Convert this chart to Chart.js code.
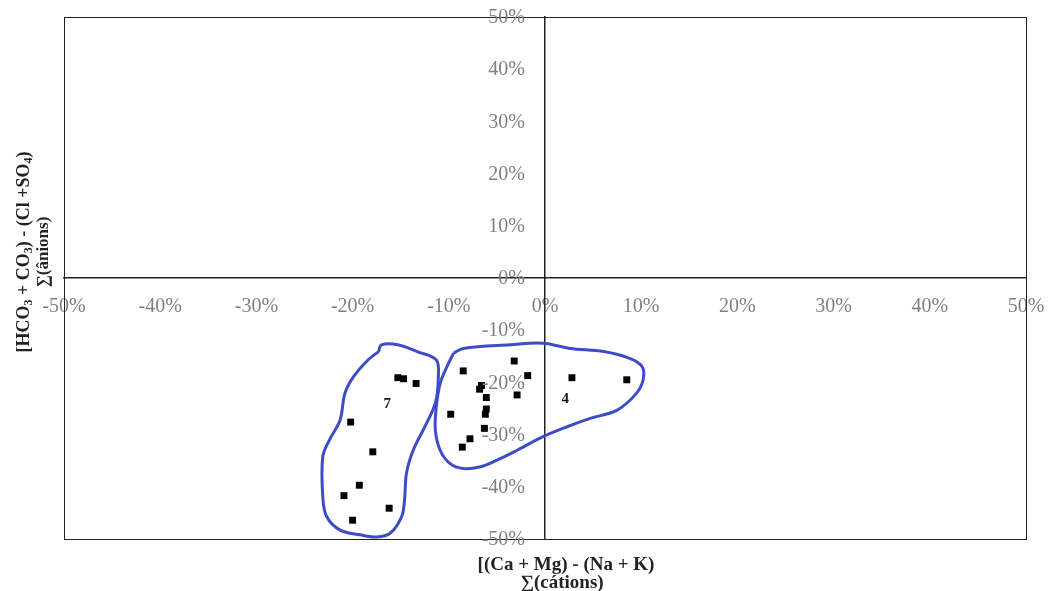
<!DOCTYPE html>
<html>
<head>
<meta charset="utf-8">
<script src="https://cdn.jsdelivr.net/npm/chart.js@4.4.0/dist/chart.umd.min.js"></script>
<style>
  body { margin: 0; background: #fff; }
  #wrap { width: 1059px; height: 591px; position: relative; }
</style>
</head>
<body>
<div id="wrap"><canvas id="pipChart"></canvas></div>
<script>
// group 7 samples (x = cations %, y = anions %)
const group7X = [-15.3, -14.7, -13.4, -20.2, -17.9, -19.3, -20.9, -16.2, -20.0];
const group7Y = [-19.1, -19.3, -20.2, -27.6, -33.3, -39.7, -41.7, -44.1, -46.4];

// group 4 samples
const group4X = [-3.2, -8.5, -1.8, 2.8, 8.5, -6.6, -6.8, -6.1, -2.9, -6.1, -6.2, -9.8, -6.3, -7.8, -8.6];
const group4Y = [-15.9, -17.8, -18.7, -19.1, -19.5, -20.6, -21.3, -22.9, -22.4, -25.1, -26.1, -26.1, -28.8, -30.8, -32.4];

// hand drawn outlines round each group
const outline7X = [-17.3, -17.0, -15.3, -13.3, -11.3, -11.1, -11.4, -12.5, -13.7, -14.4, -14.6, -14.9, -16.1, -17.5, -19.2, -21.3, -22.7, -23.1, -23.1, -22.4, -21.3, -20.8, -19.9, -18.4, -17.3];
const outline7Y = [-14.1, -12.8, -12.8, -14.1, -15.7, -19.5, -24.0, -28.5, -33.0, -37.4, -42.5, -45.7, -48.9, -49.6, -49.2, -48.3, -45.7, -41.9, -34.2, -31.0, -27.2, -22.1, -18.9, -15.7, -14.1];
const outline4X = [-9.5, -8.5, -3.6, -0.2, 2.6, 6.1, 8.8, 10.1, 10.2, 9.5, 7.5, 4.7, 2.3, -0.2, -2.9, -5.0, -6.8, -8.5, -9.9, -10.9, -11.4, -11.3, -10.9, -10.2, -9.5];
const outline4Y = [-14.4, -13.5, -12.8, -12.5, -13.5, -14.1, -15.4, -17.0, -19.5, -22.1, -25.3, -26.9, -28.5, -30.4, -33.0, -34.9, -36.2, -36.5, -35.5, -33.0, -29.1, -24.7, -20.2, -17.0, -14.4];

// group labels
const groupNames = ['7', '4'];
const groupLabelX = [-16.4, 2.1];
const groupLabelY = [-24.1, -23.2];

const tickValues = [-50, -40, -30, -20, -10, 0, 10, 20, 30, 40, 50];

const toPts = (xs, ys) => xs.map((x, i) => ({ x: x, y: ys[i] }));

const serif = '"Liberation Serif", "Times New Roman", serif';

const extras = {
  id: 'extras',
  afterDraw(chart) {
    const { ctx, chartArea: a, scales } = chart;
    ctx.save();
    // frame
    ctx.strokeStyle = '#222';
    ctx.lineWidth = 1;
    ctx.strokeRect(a.left + 0.5, a.top + 0.5, a.right - a.left, a.bottom - a.top);

    // y tick labels, left of the centred y axis
    const x0 = scales.x.getPixelForValue(0);
    ctx.fillStyle = '#808080';
    ctx.font = '20px ' + serif;
    ctx.textAlign = 'right';
    ctx.textBaseline = 'middle';
    tickValues.forEach(v => {
      ctx.fillText(v + '%', x0 - 20, scales.y.getPixelForValue(v) + 1);
    });

    // group labels
    ctx.fillStyle = '#111';
    ctx.font = 'bold 15px ' + serif;
    ctx.textAlign = 'center';
    groupNames.forEach((n, i) => {
      ctx.fillText(n, scales.x.getPixelForValue(groupLabelX[i]), scales.y.getPixelForValue(groupLabelY[i]));
    });

    // x axis title
    ctx.fillStyle = '#222';
    ctx.font = 'bold 19px ' + serif;
    ctx.fillText('[(Ca + Mg) - (Na + K)', 566, 565);
    ctx.fillText('\u2211(c\u00e1tions)', 562, 583);

    // y axis title, rotated
    ctx.translate(24, 252);
    ctx.rotate(-Math.PI / 2);
    const runs = [['[HCO', 0], ['3', 1], [' + CO', 0], ['3', 1], [') - (Cl +SO', 0], ['4', 1], [')', 0]];
    const big = 'bold 18px ' + serif, small = 'bold 12px ' + serif;
    let w = 0;
    runs.forEach(r => { ctx.font = r[1] ? small : big; w += ctx.measureText(r[0]).width; });
    let cx = -w / 2;
    ctx.textAlign = 'left';
    runs.forEach(r => {
      ctx.font = r[1] ? small : big;
      ctx.fillText(r[0], cx, r[1] ? 5 : 0);
      cx += ctx.measureText(r[0]).width;
    });
    ctx.font = 'bold 17px ' + serif;
    ctx.textAlign = 'center';
    ctx.fillText('\u2211(\u00e2nions)', 0, 20);
    ctx.restore();
  }
};

const ctx = document.getElementById('pipChart').getContext('2d');

new Chart(ctx, {
  type: 'scatter',
  data: {
    datasets: [
      {
        label: 'Grupo 7',
        data: toPts(group7X, group7Y),
        pointStyle: 'rect',
        pointRadius: 4.9,
        backgroundColor: '#000',
        borderColor: '#000',
        borderWidth: 0
      },
      {
        label: 'Grupo 4',
        data: toPts(group4X, group4Y),
        pointStyle: 'rect',
        pointRadius: 4.9,
        backgroundColor: '#000',
        borderColor: '#000',
        borderWidth: 0
      },
      {
        label: 'Contorno 7',
        data: toPts(outline7X, outline7Y),
        showLine: true,
        pointRadius: 0,
        borderColor: '#3d4dc6',
        borderWidth: 3,
        tension: 0.35,
        fill: false
      },
      {
        label: 'Contorno 4',
        data: toPts(outline4X, outline4Y),
        showLine: true,
        pointRadius: 0,
        borderColor: '#3d4dc6',
        borderWidth: 3,
        tension: 0.35,
        fill: false
      }
    ]
  },
  options: {
    responsive: true,
    maintainAspectRatio: false,
    animation: false,
    layout: { padding: { left: 64, top: 17, right: 33, bottom: 52 } },
    scales: {
      x: {
        type: 'linear',
        min: -50,
        max: 50,
        position: { y: 0 },
        grid: { display: false },
        border: { display: true, color: '#222', width: 1.5 },
        afterBuildTicks: s => { s.ticks = tickValues.map(v => ({ value: v })); },
        ticks: {
          autoSkip: false,
          maxRotation: 0,
          padding: 9,
          color: '#808080',
          font: { family: serif, size: 20 },
          callback: v => v + '%'
        }
      },
      y: {
        type: 'linear',
        min: -50,
        max: 50,
        position: { x: 0 },
        grid: { display: false },
        border: { display: true, color: '#222', width: 1.5 },
        afterBuildTicks: s => { s.ticks = tickValues.map(v => ({ value: v })); },
        ticks: { display: false }
      }
    },
    plugins: {
      legend: { display: false },
      tooltip: { enabled: false }
    }
  },
  plugins: [extras]
});
</script>
</body>
</html>
